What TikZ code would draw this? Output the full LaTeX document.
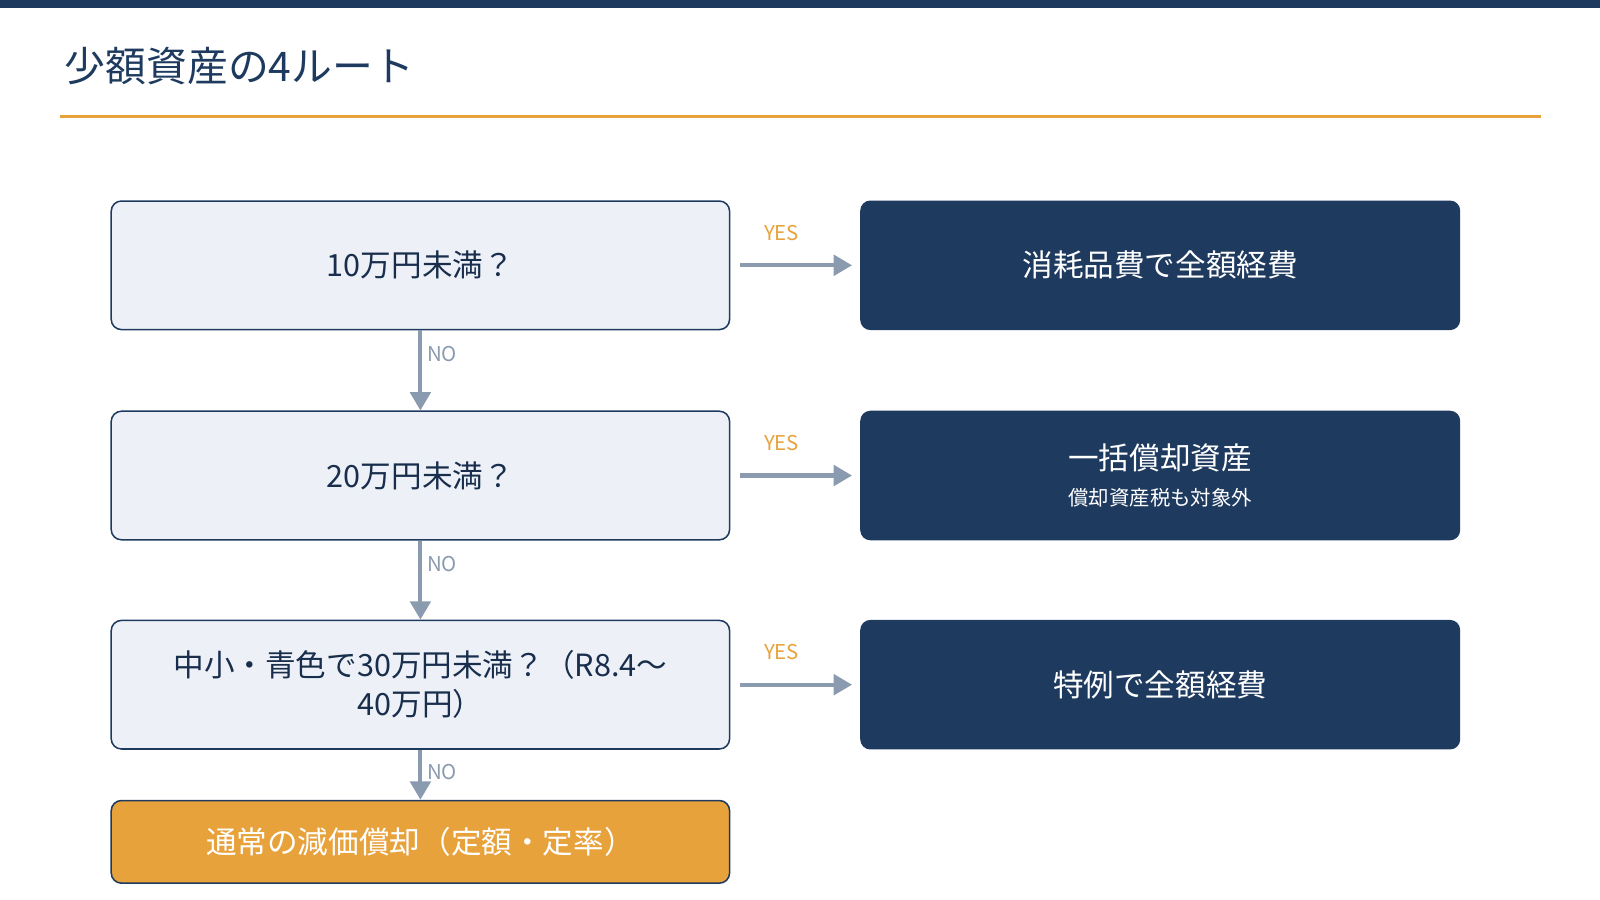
\documentclass[tikz,border=0pt]{standalone}
\usepackage{fontspec}
\setmainfont{Noto Sans CJK JP}
\usetikzlibrary{arrows.meta}
\definecolor{navy}{HTML}{1E3A5F}
\definecolor{org}{HTML}{E8A23C}
\definecolor{lite}{HTML}{EDF1F7}
\definecolor{gr}{HTML}{8A9BB0}
\tikzset{
 q/.style={draw=navy,line width=1.5pt,fill=lite,rounded corners=10pt,minimum width=606pt,minimum height=126pt,align=center,text=navy!80!black,font=\fontsize{30}{38}\selectfont},
 r/.style={fill=navy,rounded corners=10pt,minimum width=588pt,minimum height=127pt,align=center,text=white,font=\fontsize{30}{38}\selectfont},
 ar/.style={draw=gr,line width=4pt,-{Triangle[length=18pt,width=20pt]}},
 yes/.style={text=org,font=\fontsize{20}{24}\selectfont},
 no/.style={text=gr,font=\fontsize{20}{24}\selectfont,anchor=west}
}
\begin{document}
\begin{tikzpicture}[x=1pt,y=-1pt]
\useasboundingbox (0,0) rectangle (1568,882);
\fill[navy] (0,0) rectangle (1568,8);
\node[anchor=west,text=navy,font=\fontsize{40}{48}\selectfont] (t) at (60,65) {少額資産の4ルート};
\draw[org,line width=3pt] (59,114) -- (1510,114);
\node[q] (q1) at (412,260) {10万円未満？};
\node[q] (q2) at (412,466) {20万円未満？};
\node[q] (q3) at (412,671) {中小・青色で30万円未満？（R8.4〜\\40万円）};
\node[q,fill=org,minimum height=81pt,text=white] (q4) at (412,825) {通常の減価償却（定額・定率）};
\node[r] (r1) at (1137,260) {消耗品費で全額経費};
\node[r] (r2) at (1137,466) {一括償却資産\\[-2pt]{\fontsize{20}{26}\selectfont 償却資産税も対象外}};
\node[r] (r3) at (1137,671) {特例で全額経費};
\foreach \a/\b/\y in {q1/r1/260,q2/r2/466,q3/r3/671}{
 \coordinate (s\a) at (725,\y); \coordinate (e\a) at (835,\y);
 \draw[ar] (s\a) -- (e\a);
 \node[yes] at (766,\y-32) {YES};
}
\draw[ar] (q1.south) -- (q2.north);
\draw[ar] (q2.south) -- (q3.north);
\draw[ar] (q3.south) -- (q4.north);
\node[no] at (415,347) {NO};
\node[no] at (415,553) {NO};
\node[no] at (415,757) {NO};
\end{tikzpicture}
\end{document}
